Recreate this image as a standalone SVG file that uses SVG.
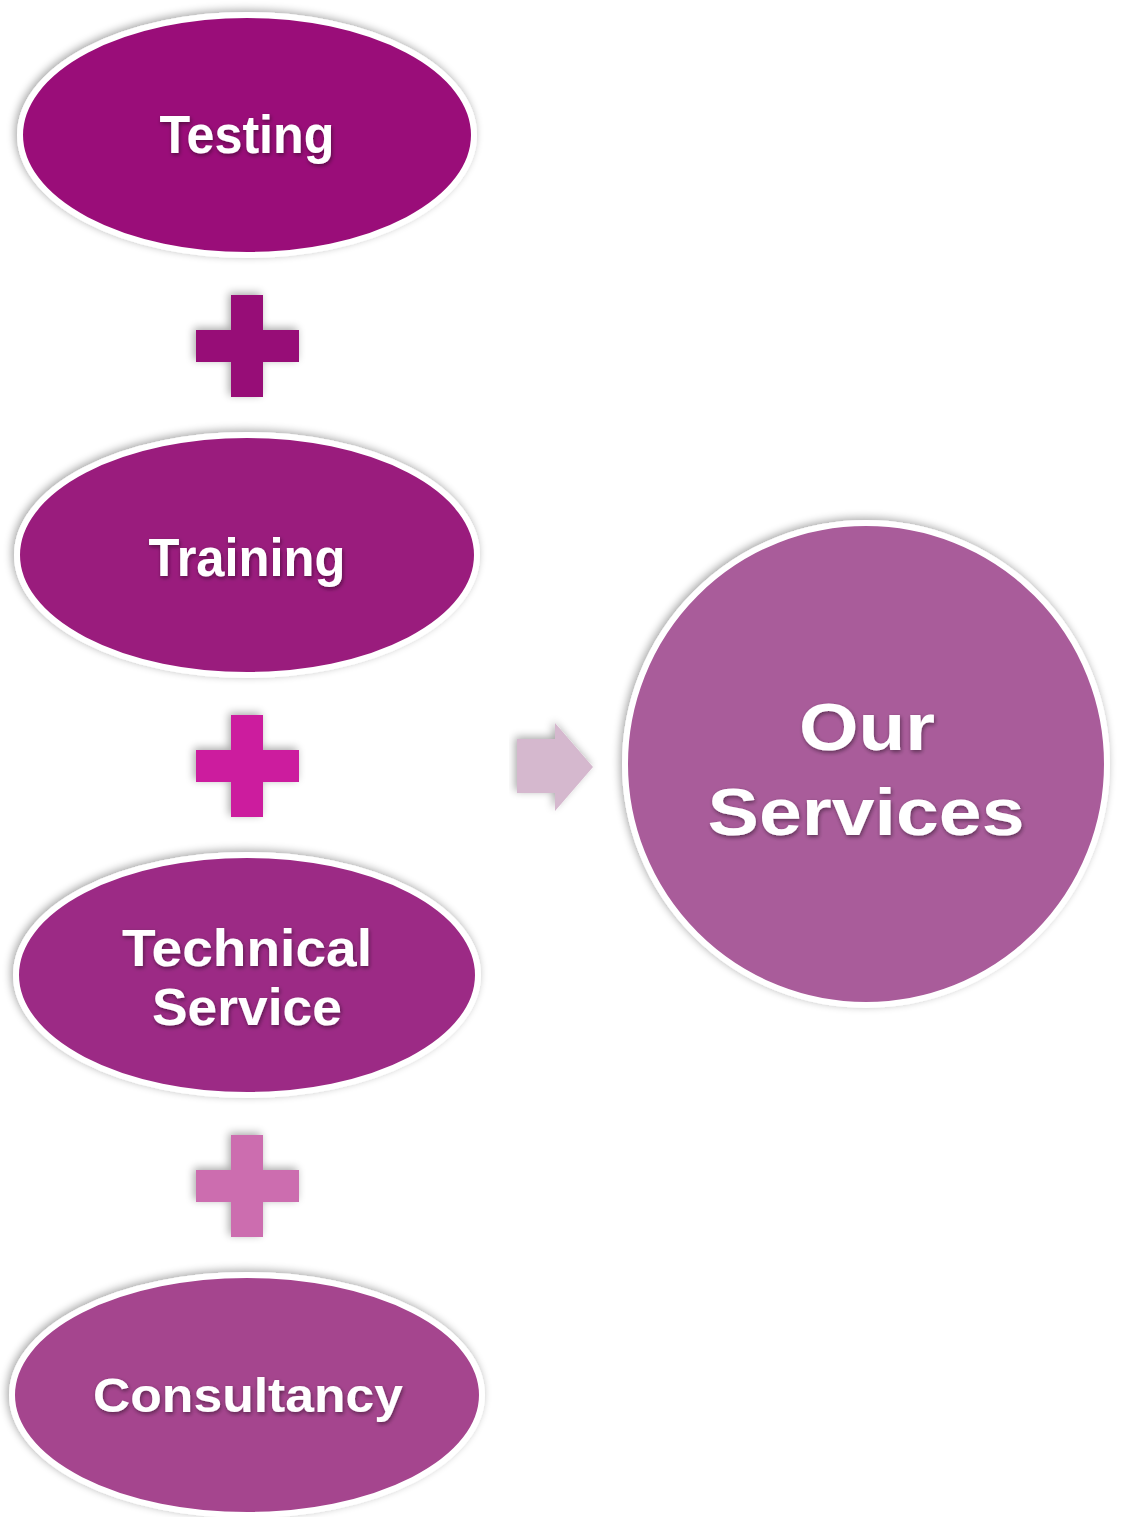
<svg xmlns="http://www.w3.org/2000/svg" width="1124" height="1517" viewBox="0 0 1124 1517">
<defs>
<filter id="sh" x="-10%" y="-10%" width="125%" height="125%">
<feGaussianBlur in="SourceAlpha" stdDeviation="4"/>
<feOffset dx="-2" dy="-2" result="b"/>
<feComponentTransfer><feFuncA type="linear" slope="0.35"/></feComponentTransfer>
<feMerge><feMergeNode/><feMergeNode in="SourceGraphic"/></feMerge>
</filter>
<filter id="tsh" x="-10%" y="-20%" width="120%" height="150%">
<feGaussianBlur in="SourceAlpha" stdDeviation="2"/>
<feOffset dx="1" dy="2" result="b"/>
<feComponentTransfer><feFuncA type="linear" slope="0.45"/></feComponentTransfer>
<feMerge><feMergeNode/><feMergeNode in="SourceGraphic"/></feMerge>
</filter>
</defs>
<style>
.node{stroke:#ffffff;stroke-width:6}
.lbl{font-family:"Liberation Sans",Arial,sans-serif;font-weight:bold;fill:#ffffff;text-anchor:middle}
</style>
<rect width="1124" height="1517" fill="#ffffff"/>
<g id="testing" filter="url(#sh)">
<ellipse class="node" cx="247" cy="135" rx="227" ry="120" fill="#9A1079"/>
<text class="lbl" x="247" y="153" font-size="54" textLength="175" lengthAdjust="spacingAndGlyphs" filter="url(#tsh)">Testing</text>
</g>
<g id="training" filter="url(#sh)">
<ellipse class="node" cx="247" cy="555" rx="230" ry="120" fill="#9A1C7D"/>
<text class="lbl" x="247" y="576" font-size="54" textLength="197" lengthAdjust="spacingAndGlyphs" filter="url(#tsh)">Training</text>
</g>
<g id="technical-service" filter="url(#sh)">
<ellipse class="node" cx="247" cy="975" rx="231" ry="120" fill="#9C2B85"/>
<text class="lbl" x="247" y="966" font-size="52" textLength="250" lengthAdjust="spacingAndGlyphs" filter="url(#tsh)">Technical</text>
<text class="lbl" x="247" y="1025" font-size="52" textLength="190" lengthAdjust="spacingAndGlyphs" filter="url(#tsh)">Service</text>
</g>
<g id="consultancy" filter="url(#sh)">
<ellipse class="node" cx="247" cy="1395" rx="235" ry="120" fill="#A5458E"/>
<text class="lbl" x="248" y="1412" font-size="48" textLength="310" lengthAdjust="spacingAndGlyphs" filter="url(#tsh)">Consultancy</text>
</g>
<g id="our-services" filter="url(#sh)">
<circle class="node" cx="866" cy="764" r="241" fill="#A95C9A"/>
<text class="lbl" x="867" y="750" font-size="66" textLength="136" lengthAdjust="spacingAndGlyphs" filter="url(#tsh)">Our</text>
<text class="lbl" x="866" y="835" font-size="66" textLength="317" lengthAdjust="spacingAndGlyphs" filter="url(#tsh)">Services</text>
</g>
<g id="connectors">
<path id="plus1" filter="url(#sh)" fill="#970A77" d="M231 295H263V330H299V362H263V397H231V362H196V330H231Z"/>
<path id="plus2" filter="url(#sh)" fill="#CC1E9E" d="M231 715H263V750H299V782H263V817H231V782H196V750H231Z"/>
<path id="plus3" filter="url(#sh)" fill="#CC6DAF" d="M231 1135H263V1170H299V1202H263V1237H231V1202H196V1170H231Z"/>
<path id="arrow" filter="url(#sh)" fill="#D5B8CE" d="M517 739H555V723L593 767L555 811V793H517Z"/>
</g>
</svg>
